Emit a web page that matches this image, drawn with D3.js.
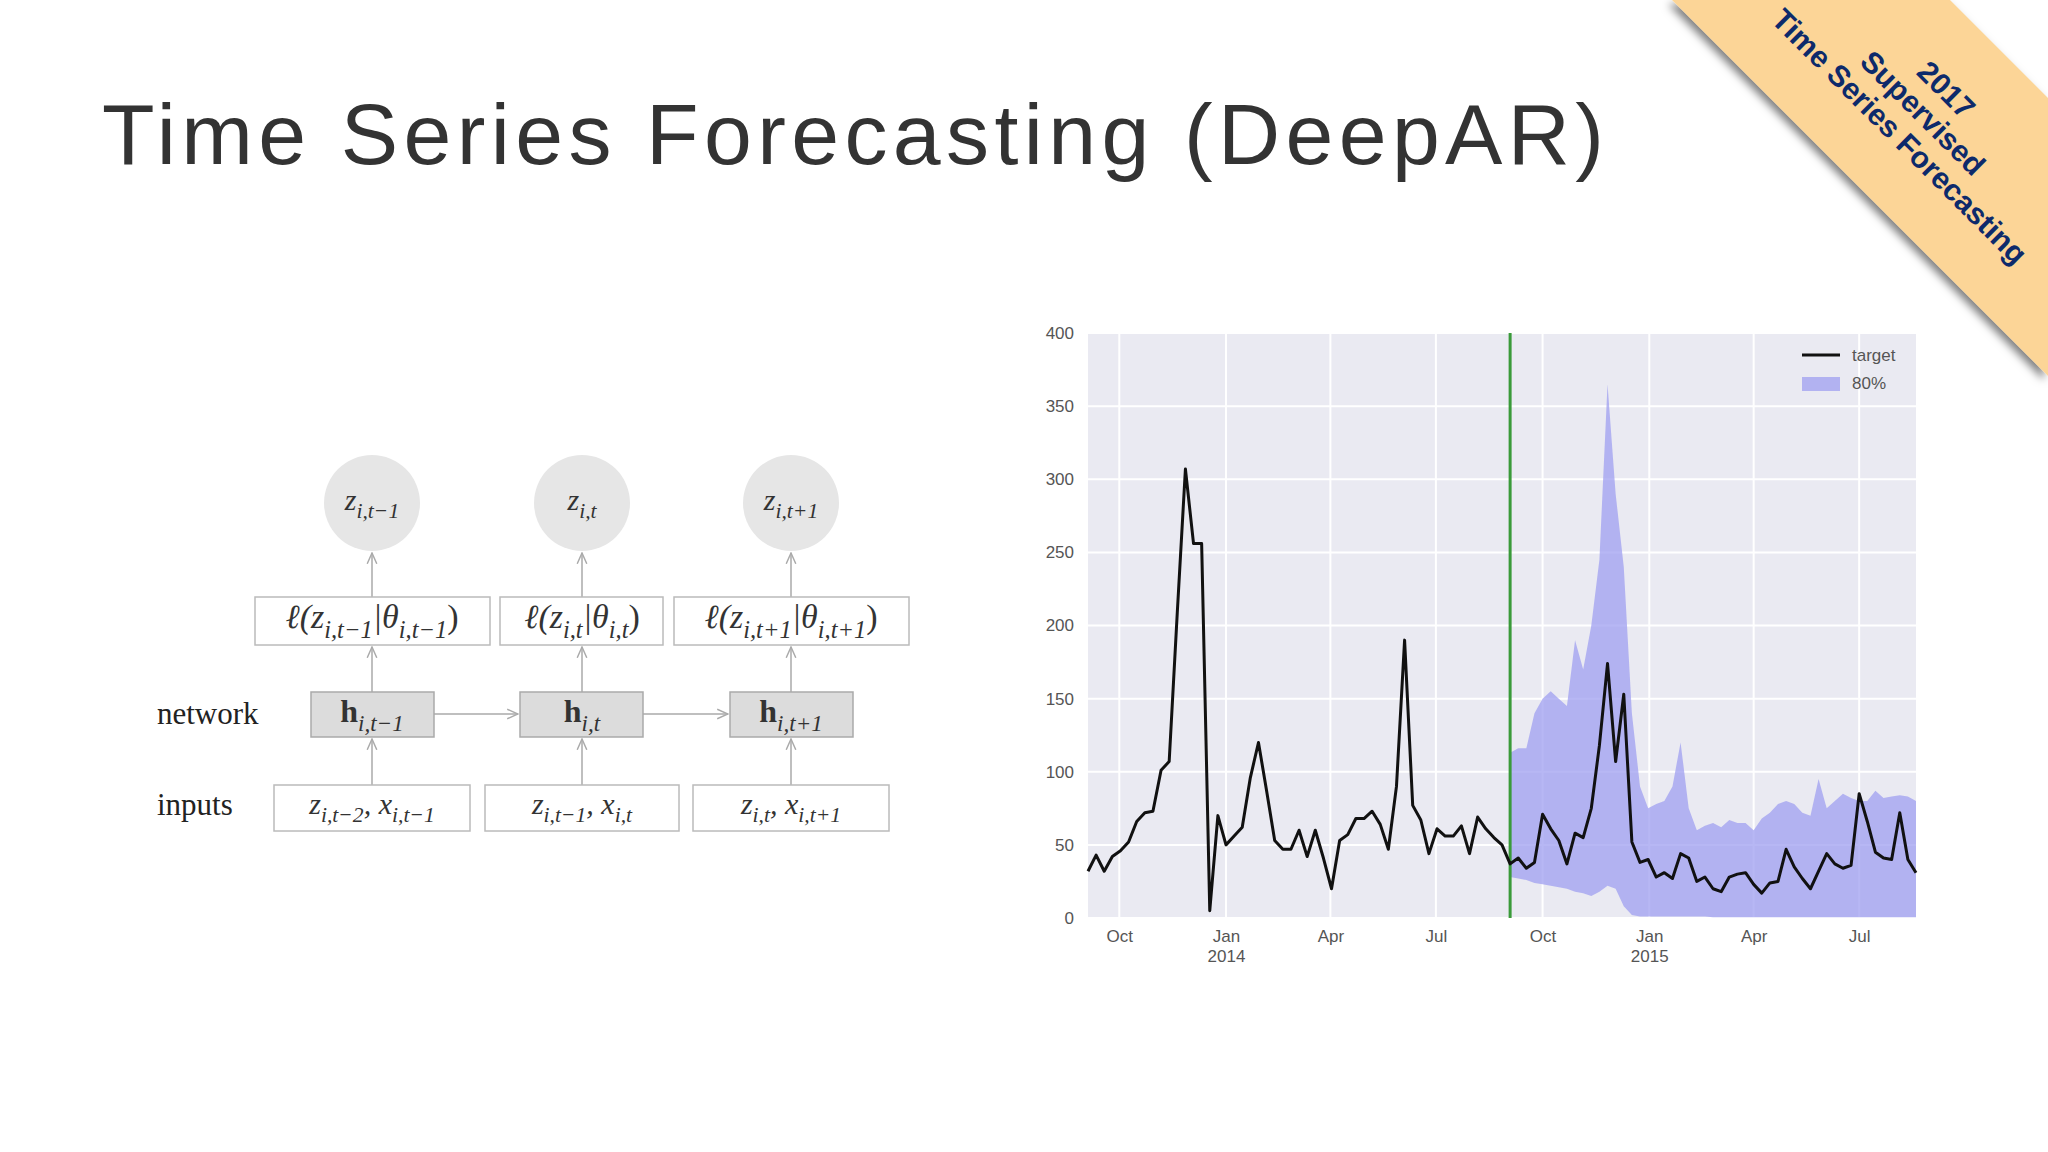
<!DOCTYPE html>
<html lang="en">
<head>
<meta charset="UTF-8" />
<title>Time Series Forecasting (DeepAR)</title>
<script src="https://d3js.org/d3.v7.min.js"></script>
<style>
  body { margin: 0; background: #fff; overflow: hidden; }
  svg { width: 2048px; height: 1152px; display: block; }
  .tick text { font-family: "Liberation Sans", Arial, sans-serif; font-size: 17px; fill: #555; }
  .serif { font-family: "Liberation Serif", "DejaVu Serif", serif; }
</style>
</head>
<body>
<svg></svg>
<script>
// --- data ---
const startDate = new Date(2013, 8, 4);
const target = [32,43,32,42,46,52,66,72,73,101,107,209,307,256,256,5,70,50,
  56,62,96,120,87,53,47,47,60,42,60,41,20,53,57,68,68,73,64,47,90,190,77,67,44,61,56,56,
  63,44,69,61,55,50,37,
  41,34,38,71,61,53,37,58,55,75,118,174,107,153,52,38,40,28,31,27,44,41,25,28,20,18,
  28,30,31,23,17,24,25,47,35,27,20,32,44,37,34,36,85,66,45,41,40,72,40,31];
const forecastStart = 52;
const upper = [113,116,116,140,150,155,150,145,190,170,200,245,365,290,240,140,90,75,78,80,90,
  120,75,60,63,65,62,67,65,65,60,68,72,78,80,78,72,70,95,75,80,85,82,80,80,87,82,83,84,83,80];
const lower = [28,27,26,24,23,22,21,20,18,17,15,18,22,20,8,2,1,1,1,1,1,1,1,1,1,0.5,0.5,0.5,
  0.5,0.5,0.5,0.5,0.5,0.5,0.5,0.5,0.5,0.5,0.5,0.5,0.5,0.5,0.5,0.5,0.5,0.5,0.5,0.5,0.5,0.5,0.5];
const yTicks = [0,50,100,150,200,250,300,350,400];
const xTickDates = [new Date(2013,9,1), new Date(2014,0,1), new Date(2014,3,1), new Date(2014,6,1),
  new Date(2014,9,1), new Date(2015,0,1), new Date(2015,3,1), new Date(2015,6,1)];
const xTickLabels = [["Oct"],["Jan","2014"],["Apr"],["Jul"],["Oct"],["Jan","2015"],["Apr"],["Jul"]];
const bannerLines = ["2017", "Supervised", "Time Series Forecasting"];

const svg = d3.select("svg");
const defs = svg.append("defs");

// title
svg.append("text")
  .attr("x", 102).attr("y", 164)
  .attr("textLength", 1502).attr("lengthAdjust", "spacing")
  .style("font-family", "'Liberation Sans', Arial, sans-serif")
  .style("font-size", "86px").style("fill", "#333")
  .text("Time Series Forecasting (DeepAR)");

// --- chart ---
const pl = 1088, pr = 1916, pt = 333, pb = 918;
const pts = target.map((v, i) => ({ date: d3.timeDay.offset(startDate, 7 * i), v }));
const x = d3.scaleTime().domain([startDate, pts[pts.length - 1].date]).range([pl, pr]);
const y = d3.scaleLinear().domain([0, 400]).range([pb, pt]);

const chart = svg.append("g");
chart.append("rect").attr("x", pl).attr("y", pt)
  .attr("width", pr - pl).attr("height", pb - pt).attr("fill", "#eaeaf2");

chart.append("g").selectAll("line").data(yTicks).join("line")
  .attr("x1", pl).attr("x2", pr).attr("y1", d => y(d)).attr("y2", d => y(d))
  .attr("stroke", "#fff").attr("stroke-width", 2);
chart.append("g").selectAll("line").data(xTickDates).join("line")
  .attr("x1", d => x(d)).attr("x2", d => x(d)).attr("y1", pt).attr("y2", pb)
  .attr("stroke", "#fff").attr("stroke-width", 2);

const band = pts.slice(forecastStart, forecastStart + upper.length)
  .map((p, i) => ({ date: p.date, hi: upper[i], lo: lower[i] }));
chart.append("path").datum(band)
  .attr("fill", "#9f9ff0").attr("fill-opacity", 0.75)
  .attr("d", d3.area().x(d => x(d.date)).y0(d => y(d.lo)).y1(d => y(d.hi)));

chart.append("line")
  .attr("x1", x(pts[forecastStart].date)).attr("x2", x(pts[forecastStart].date))
  .attr("y1", pt).attr("y2", pb)
  .attr("stroke", "#3a9a3a").attr("stroke-width", 3);

chart.append("path").datum(pts)
  .attr("fill", "none").attr("stroke", "#111").attr("stroke-width", 3)
  .attr("stroke-linejoin", "round")
  .attr("d", d3.line().x(d => x(d.date)).y(d => y(d.v)));

const yAxis = chart.append("g").attr("transform", `translate(${pl},0)`)
  .call(d3.axisLeft(y).tickValues(yTicks).tickSize(0).tickPadding(14));
yAxis.select(".domain").remove();

const xAxis = chart.append("g").attr("transform", `translate(0,${pb})`)
  .call(d3.axisBottom(x).tickValues(xTickDates).tickSize(0).tickPadding(12).tickFormat(""));
xAxis.select(".domain").remove();
xAxis.selectAll(".tick text").each(function (d, i) {
  const t = d3.select(this);
  xTickLabels[i].forEach((s, j) => t.append("tspan").attr("x", 0).attr("dy", j ? "1.15em" : "0.71em").text(s));
});

// legend
const lg = chart.append("g").attr("transform", `translate(${pr - 114},355)`);
lg.append("line").attr("x1", 0).attr("x2", 38).attr("stroke", "#111").attr("stroke-width", 3);
lg.append("rect").attr("x", 0).attr("y", 22).attr("width", 38).attr("height", 14)
  .attr("fill", "#9f9ff0").attr("fill-opacity", 0.75);
lg.append("text").attr("x", 50).attr("y", 6).text("target")
  .style("font-family", "'Liberation Sans', Arial, sans-serif").style("font-size", "17px").style("fill", "#555");
lg.append("text").attr("x", 50).attr("y", 34).text("80%")
  .style("font-family", "'Liberation Sans', Arial, sans-serif").style("font-size", "17px").style("fill", "#555");

// --- DeepAR diagram ---
const cols = [372, 582, 791];
const dg = svg.append("g").attr("class", "serif");
function mathText(cx, cy, parts, size, bold) {
  const t = dg.append("text").attr("x", cx).attr("y", cy).attr("text-anchor", "middle")
    .style("font-size", size + "px").style("fill", "#333");
  parts.forEach(([s, sub, upright]) => {
    t.append("tspan")
      .attr("dy", sub === 1 ? size * 0.28 : sub === -1 ? -size * 0.28 : 0)
      .style("font-size", sub === 1 ? size * 0.72 + "px" : size + "px")
      .style("font-style", upright ? "normal" : "italic")
      .style("font-weight", bold && sub !== 1 ? "bold" : "normal")
      .text(s);
  });
  return t;
}
const subs = ["i,t−1", "i,t", "i,t+1"];
const subsIn = ["i,t−2", "i,t−1", "i,t"];
const subsInX = ["i,t−1", "i,t", "i,t+1"];
defs.append("marker").attr("id", "arr").attr("viewBox", "0 0 10 10")
  .attr("refX", 9).attr("refY", 5).attr("markerWidth", 8).attr("markerHeight", 8).attr("orient", "auto")
  .append("path").attr("d", "M0,1 L9,5 L0,9").attr("fill", "none").attr("stroke", "#aaa").attr("stroke-width", 1.2);
const arrow = (x0, y0, x1, y1) => dg.append("line").attr("x1", x0).attr("y1", y0).attr("x2", x1).attr("y2", y1)
  .attr("stroke", "#aaa").attr("stroke-width", 1.5).attr("marker-end", "url(#arr)");

const lw = [[255, 490], [500, 663], [674, 909]];
const hw = [[311, 434], [520, 643], [730, 853]];
const iw = [[274, 470], [485, 679], [693, 889]];
cols.forEach((c, i) => {
  arrow(c, 785, c, 739);
  arrow(c, 692, c, 647);
  arrow(c, 597, c, 553);
  dg.append("circle").attr("cx", c).attr("cy", 503).attr("r", 48).attr("fill", "#e6e6e6");
  mathText(c, 510, [["z"], [subs[i], 1]], 30);
  dg.append("rect").attr("x", lw[i][0]).attr("y", 597).attr("width", lw[i][1] - lw[i][0]).attr("height", 48)
    .attr("fill", "#fff").attr("stroke", "#bbb").attr("stroke-width", 1.5);
  mathText(c, 628, [["ℓ(z"], [subs[i], 1], ["|θ", -1], [subs[i], 1], [")", -1, true]], 34);
  dg.append("rect").attr("x", hw[i][0]).attr("y", 692).attr("width", hw[i][1] - hw[i][0]).attr("height", 45)
    .attr("fill", "#dcdcdc").attr("stroke", "#aaa").attr("stroke-width", 1.5);
  mathText(c, 722, [["h", 0, true], [subs[i], 1]], 32, true);
  dg.append("rect").attr("x", iw[i][0]).attr("y", 785).attr("width", iw[i][1] - iw[i][0]).attr("height", 46)
    .attr("fill", "#fff").attr("stroke", "#bbb").attr("stroke-width", 1.5);
  mathText(c, 814, [["z"], [subsIn[i], 1], [", x", -1], [subsInX[i], 1]], 30);
});
arrow(434, 714, 518, 714);
arrow(643, 714, 728, 714);
dg.append("text").attr("x", 157).attr("y", 724).text("network").style("font-size", "31px").style("fill", "#222");
dg.append("text").attr("x", 157).attr("y", 815).text("inputs").style("font-size", "31px").style("fill", "#222");

// --- corner banner ---
const f = defs.append("filter").attr("id", "sh").attr("x", "-20%").attr("y", "-20%").attr("width", "140%").attr("height", "140%");
f.append("feDropShadow").attr("dx", -4).attr("dy", 4).attr("stdDeviation", 4).attr("flood-color", "#000").attr("flood-opacity", 0.5);
svg.append("polygon")
  .attr("points", "1672,0 1950,0 2048,98 2048,376")
  .attr("fill", "#fcd597").attr("filter", "url(#sh)");
const bt = svg.append("text")
  .attr("transform", "translate(1922,114) rotate(45)")
  .attr("text-anchor", "middle")
  .style("font-family", "'Liberation Sans', Arial, sans-serif")
  .style("font-weight", "bold").style("font-size", "30px").style("fill", "#0d2a6b");
bannerLines.forEach((s, i) => bt.append("tspan").attr("x", 0).attr("dy", i ? 33 : -24).text(s));
</script>
</body>
</html>
